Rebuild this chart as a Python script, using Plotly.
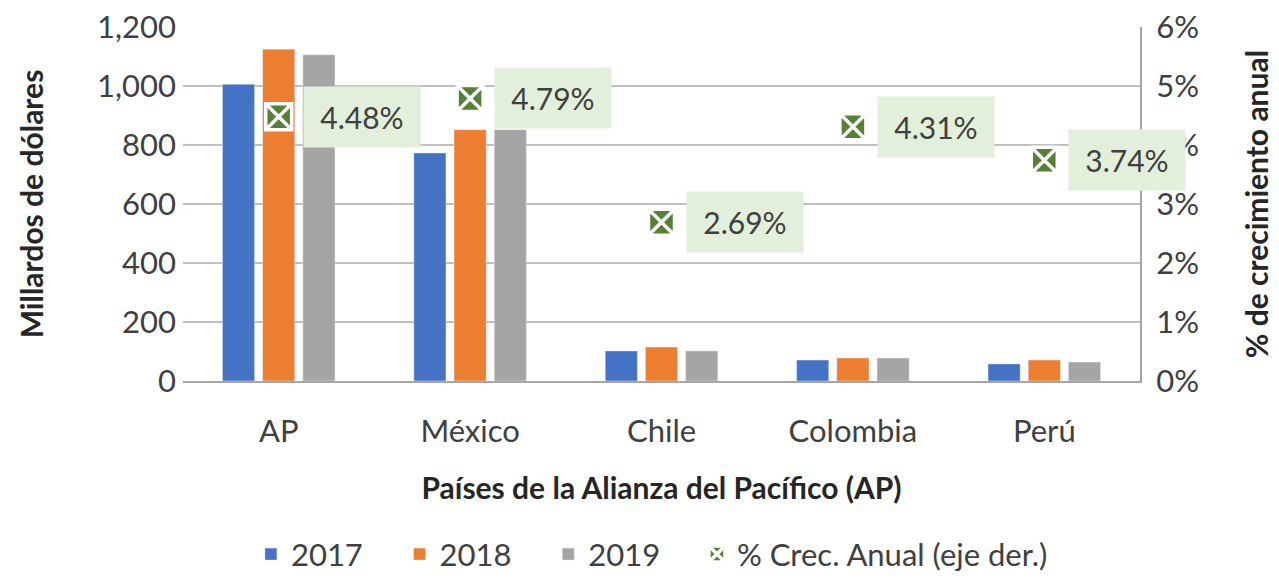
import plotly.graph_objects as go

categories = ["AP", "México", "Chile", "Colombia", "Perú"]
v2017 = [1006, 773, 102, 71, 58]
v2018 = [1125, 852, 115, 78, 71]
v2019 = [1106, 852, 102, 78, 64]
growth = [4.48, 4.79, 2.69, 4.31, 3.74]
series_names = ["2017", "2018", "2019", "% Crec. Anual (eje der.)"]
y_ticks = [0, 200, 400, 600, 800, 1000, 1200]
y_tick_labels = ["0", "200", "400", "600", "800", "1,000", "1,200"]
y2_ticks = [0, 1, 2, 3, 4, 5, 6]
y2_tick_labels = ["0%", "1%", "2%", "3%", "4%", "5%", "6%"]

FONT = "Lato"
TXT = "#404040"
PAD = "\u00a0" * 4

fig = go.Figure()
fig.add_trace(go.Bar(name=series_names[0] + PAD, x=categories, y=v2017, marker_color="#4472C4"))
fig.add_trace(go.Bar(name=series_names[1] + PAD, x=categories, y=v2018, marker_color="#ED7D31"))
fig.add_trace(go.Bar(name=series_names[2] + PAD, x=categories, y=v2019, marker_color="#A5A5A5"))
fig.add_trace(go.Scatter(
    name=series_names[3], x=categories, y=growth, yaxis="y2",
    mode="markers",
    marker=dict(symbol="square-x", size=26, color="#548235",
                line=dict(color="white", width=3.5)),
))

for c, g in zip(categories, growth):
    fig.add_annotation(
        x=c, y=g, xref="x", yref="y2", text=f"{g:.2f}%",
        showarrow=False, xanchor="left", xshift=24,
        bgcolor="#E2EFDA", borderpad=12, width=92, align="center",
        font=dict(family=FONT, size=30, color=TXT),
    )

fig.update_layout(
    width=1271, height=572,
    margin=dict(l=175, r=139, t=19, b=199, autoexpand=False),
    paper_bgcolor="white", plot_bgcolor="white",
    barmode="group", bargap=0.37, bargroupgap=0.2,
    font=dict(family=FONT, size=31, color=TXT),
    xaxis=dict(
        automargin=False, range=[-0.5, 4.5],
        title=dict(text="<b>Países de la Alianza del Pacífico (AP)</b>",
                   font=dict(size=30, color="#262626"), standoff=30),
        tickfont=dict(size=31), ticks="", showline=True, ticklabelstandoff=22,
        linecolor="#a6a6a6", linewidth=2,
    ),
    yaxis=dict(
        automargin=False, ticklabeloverflow="allow",
        range=[0, 1200], tickvals=y_ticks, ticktext=y_tick_labels,
        showgrid=True, gridcolor="#bfbfbf", gridwidth=1.5,
        tickfont=dict(size=31), zeroline=False, ticklabelstandoff=6,
        title=dict(text="<b>Millardos de dólares</b>",
                   font=dict(size=30, color="#262626"), standoff=44),
    ),
    yaxis2=dict(
        automargin=False, ticklabeloverflow="allow",
        range=[0, 6], tickvals=y2_ticks, ticktext=y2_tick_labels,
        overlaying="y", side="right", showgrid=False, zeroline=False,
        showline=True, linecolor="#a6a6a6", linewidth=2,
        tickfont=dict(size=31), ticklabelstandoff=8,
        title=dict(text="<b>% de crecimiento anual</b>",
                   font=dict(size=30, color="#262626"), standoff=49),
    ),
    legend=dict(orientation="h", x=0.49, xanchor="center", y=-0.49,
                yanchor="middle", font=dict(size=31), traceorder="normal"),
)

fig.write_html("out.html")
